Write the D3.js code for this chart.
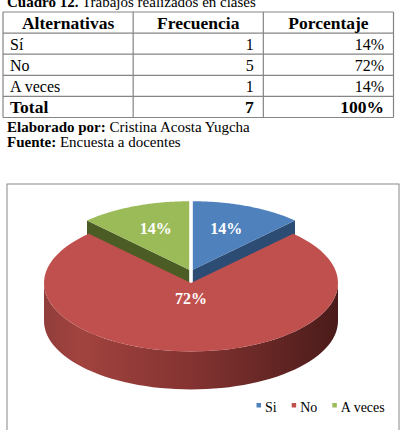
<!DOCTYPE html>
<html>
<head>
<meta charset="utf-8">
<script src="https://cdn.jsdelivr.net/npm/d3@7"></script>
<style>
  body { margin: 0; background: #fff; }
  svg { display: block; font-family: "Times New Roman", "Liberation Serif", serif; }
</style>
</head>
<body>
<div id="chart"></div>
<script>
// data
var headers = ["Alternativas", "Frecuencia", "Porcentaje"];
var categories = ["Sí", "No", "A veces"];
var legendLabels = ["Si", "No", "A veces"];
var frequencies = [1, 5, 1];
var percentages = [14, 72, 14];

var colors = ["#4F81BD", "#C0504D", "#9BBB59"];
var wallColors = ["#2d4c74", "#7a2f2d", "#4b5d25"];
var explode = [0.035, 0.16, 0.035];

var W = 403, H = 430;

var svg = d3.select("#chart").append("svg")
  .attr("width", W)
  .attr("height", H);

// ---- caption above the table
var cap = svg.append("text")
  .attr("x", 7)
  .attr("y", 7)
  .style("font-size", "15px");
cap.append("tspan").style("font-weight", "bold").text("Cuadro 12.");
cap.append("tspan").text(" Trabajos realizados en clases");

// ---- table
var rows = [headers];
categories.forEach(function(c, i) {
  rows.push([c, String(frequencies[i]), percentages[i] + "%"]);
});
rows.push(["Total", String(d3.sum(frequencies)), d3.sum(percentages) + "%"]);

var col = d3.scaleBand().domain(d3.range(3)).range([3, 393.5]);
var row = d3.scaleBand().domain(d3.range(rows.length)).range([12, 117.5]);

var table = svg.append("g");

table.selectAll("line.h")
  .data(d3.range(rows.length + 1))
  .enter().append("line")
  .attr("x1", col.range()[0]).attr("x2", col.range()[1])
  .attr("y1", function(d) { return d < rows.length ? row(d) : row.range()[1]; })
  .attr("y2", function(d) { return d < rows.length ? row(d) : row.range()[1]; })
  .attr("stroke", "#858585")
  .attr("stroke-width", 1.2);

table.selectAll("line.v")
  .data(d3.range(4))
  .enter().append("line")
  .attr("y1", row.range()[0]).attr("y2", row.range()[1])
  .attr("x1", function(d) { return d < 3 ? col(d) : col.range()[1]; })
  .attr("x2", function(d) { return d < 3 ? col(d) : col.range()[1]; })
  .attr("stroke", "#858585")
  .attr("stroke-width", 1.2);

rows.forEach(function(r, i) {
  var bold = (i == 0 || i == rows.length - 1);
  r.forEach(function(txt, j) {
    var x, anchor;
    if (i == 0) { x = col(j) + col.bandwidth() / 2; anchor = "middle"; }
    else if (j == 0) { x = col(j) + 7; anchor = "start"; }
    else { x = col(j) + col.bandwidth() - 9.5; anchor = "end"; }
    table.append("text")
      .attr("x", x)
      .attr("y", row(i) + row.bandwidth() * 0.8)
      .attr("text-anchor", anchor)
      .style("font-size", bold ? "17.5px" : "16px")
      .style("font-weight", bold ? "bold" : "normal")
      .text(txt);
  });
});

// ---- source notes
var n1 = svg.append("text").attr("x", 7).attr("y", 131.5).style("font-size", "15px");
n1.append("tspan").style("font-weight", "bold").text("Elaborado por:");
n1.append("tspan").text(" Cristina Acosta Yugcha");
var n2 = svg.append("text").attr("x", 7).attr("y", 146.5).style("font-size", "15px");
n2.append("tspan").style("font-weight", "bold").text("Fuente:");
n2.append("tspan").text(" Encuesta a docentes");

// ---- chart frame
svg.append("rect")
  .attr("x", 7).attr("y", 184)
  .attr("width", 392).attr("height", 270)
  .attr("fill", "#fff")
  .attr("stroke", "#888")
  .attr("stroke-width", 1);

// ---- 3D pie
var cx = 191, cy = 272, rx = 147, ry = 68.5, depth = 38;
var persp = 1.25;   // far side looks narrower

function warp(a) {
  var t = Math.atan2(Math.sin(a), persp * Math.cos(a));
  if (t < 0) t += 2 * Math.PI;
  if (a <= 0) t = 0;
  return t;
}
function proj(c, t, f, h) {
  return [c[0] + rx * f * Math.sin(t), c[1] - ry * f * Math.cos(t) + (h || 0)];
}

var pie = d3.pie().sort(null).value(function(d) { return d; });
var arcs = pie(percentages);

var defs = svg.append("defs");
var grad = defs.append("linearGradient")
  .attr("id", "sideRed")
  .attr("gradientUnits", "userSpaceOnUse")
  .attr("x1", cx - rx).attr("x2", cx + rx)
  .attr("y1", 0).attr("y2", 0);
[[0, "#913d3b"], [0.12, "#a2433f"], [0.5, "#843331"], [0.85, "#5c2321"], [1, "#4a1b1a"]]
  .forEach(function(s) {
    grad.append("stop").attr("offset", s[0]).attr("stop-color", s[1]);
  });

var line = d3.line();
var pieG = svg.append("g");

arcs.forEach(function(d, i) {
  var mid = warp((d.startAngle + d.endAngle) / 2);
  d.center = proj([cx, cy], mid, explode[i]);
  d.t0 = warp(d.startAngle);
  d.t1 = warp(d.endAngle);
  d.depthKey = Math.cos(mid);
});

var order = arcs.slice().sort(function(a, b) { return b.depthKey - a.depthKey; });

order.forEach(function(d) {
  var i = d.index, c = d.center;
  var g = pieG.append("g");

  // radial walls that face the viewer
  [[d.t0, Math.sin(d.t0) < -1e-6], [d.t1, Math.sin(d.t1) > 1e-6]].forEach(function(w) {
    if (!w[1]) return;
    var pts = [proj(c, w[0], 0), proj(c, w[0], 1), proj(c, w[0], 1, depth), proj(c, w[0], 0, depth)];
    g.append("path")
      .attr("d", line(pts) + "Z")
      .attr("fill", wallColors[i]);
  });

  // outer rim on the front half
  var s0 = Math.max(d.t0, Math.PI / 2), s1 = Math.min(d.t1, 3 * Math.PI / 2);
  if (s1 > s0) {
    var top = d3.range(0, 61).map(function(k) { return proj(c, s0 + (s1 - s0) * k / 60, 1); });
    var bot = top.map(function(p) { return [p[0], p[1] + depth]; }).reverse();
    g.append("path")
      .attr("d", line(top.concat(bot)) + "Z")
      .attr("fill", i == 1 ? "url(#sideRed)" : wallColors[i]);
  }

  // top face
  var n = 80;
  var face = [proj(c, 0, 0)].concat(d3.range(0, n + 1).map(function(k) {
    var a = d.startAngle + (d.endAngle - d.startAngle) * k / n;
    return proj(c, warp(a), 1);
  }));
  g.append("path")
    .attr("d", line(face) + "Z")
    .attr("fill", colors[i]);
});

// value labels at the sector centroid
arcs.forEach(function(d, i) {
  var half = (d.endAngle - d.startAngle) / 2;
  var f = (2 / 3) * Math.sin(half) / half;
  var p = proj(d.center, warp((d.startAngle + d.endAngle) / 2), f);
  pieG.append("text")
    .attr("x", p[0])
    .attr("y", p[1])
    .attr("dy", "0.35em")
    .attr("text-anchor", "middle")
    .attr("fill", "#fff")
    .style("font-size", "16px")
    .style("font-weight", "bold")
    .text(percentages[i] + "%");
});

// ---- legend
var legend = svg.append("g");
var lx = 256.5;
legendLabels.forEach(function(l, i) {
  legend.append("rect")
    .attr("x", lx).attr("y", 403)
    .attr("width", 4.5).attr("height", 4.5)
    .attr("fill", colors[i]);
  var t = legend.append("text")
    .attr("x", lx + 8.5)
    .attr("y", 411.5)
    .style("font-size", "14px")
    .text(l);
  lx += 8.5 + t.node().getComputedTextLength() + 15;
});
</script>
</body>
</html>
